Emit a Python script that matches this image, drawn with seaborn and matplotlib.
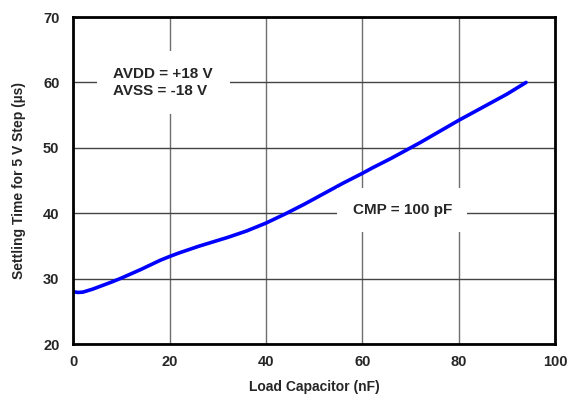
import seaborn as sns
import matplotlib.pyplot as plt
import pandas as pd

load_nf = [0, 1, 2, 4, 6, 8, 10, 12, 14, 16, 18, 20, 22, 24, 26, 28, 30, 32, 34, 36, 38,
           40, 42, 44, 46, 48, 50, 52, 54, 56, 58, 60, 62, 64, 66, 68, 70, 72, 74, 76,
           78, 80, 82, 84, 86, 88, 90, 92, 94]
settle_us = [28.0, 27.9, 27.95, 28.4, 28.95, 29.5, 30.1, 30.75, 31.4, 32.1, 32.8, 33.4,
             33.95, 34.45, 34.95, 35.4, 35.85, 36.3, 36.8, 37.3, 37.9, 38.5, 39.2, 39.9,
             40.65, 41.4, 42.2, 43.0, 43.8, 44.6, 45.35, 46.1, 46.9, 47.65, 48.4, 49.2,
             50.0, 50.8, 51.65, 52.5, 53.35, 54.2, 55.0, 55.8, 56.6, 57.4, 58.2, 59.1, 60.0]
x_ticks = [0, 20, 40, 60, 80, 100]
y_ticks = [20, 30, 40, 50, 60, 70]

df = pd.DataFrame({'load': load_nf, 'settle': settle_us})

sns.set_style('white')
plt.rcParams['font.family'] = ['Liberation Sans', 'DejaVu Sans']
plt.rcParams['font.weight'] = 'bold'

fig, ax = plt.subplots(figsize=(5.68, 3.96), dpi=100)
fig.subplots_adjust(left=0.129, right=0.977, top=0.957, bottom=0.131)

sns.lineplot(data=df, x='load', y='settle', ax=ax, color='#0000ff', linewidth=2.6)

ax.set_xlim(0, 100)
ax.set_ylim(20, 70)
ax.set_xticks(x_ticks)
ax.set_yticks(y_ticks)
ax.xaxis.grid(True, color='#6e6e6e', linewidth=1.0)
ax.yaxis.grid(True, color='#444444', linewidth=1.0)
ax.set_axisbelow(True)
ax.tick_params(length=0, labelsize=10.5)
ax.tick_params(axis='y', pad=10)
ax.tick_params(axis='x', pad=8)
for lbl in ax.get_xticklabels() + ax.get_yticklabels():
    lbl.set_fontweight('bold')
for s in ax.spines.values():
    s.set_color('black')
    s.set_linewidth(2)

ax.set_xlabel('Load Capacitor (nF)', fontsize=10, fontweight='bold', labelpad=8)
ax.set_ylabel('Settling Time for 5 V Step (µs)', fontsize=10, fontweight='bold', labelpad=12)

ax.text(8.3, 60, 'AVDD = +18 V\nAVSS = -18 V', ha='left', va='center',
        fontsize=11, fontweight='bold', linespacing=1.2,
        bbox=dict(facecolor='white', edgecolor='none', pad=12))
ax.text(68.3, 40.5, 'CMP = 100 pF', ha='center', va='center',
        fontsize=11, fontweight='bold',
        bbox=dict(facecolor='white', edgecolor='none', pad=11))

fig.savefig('out.png', dpi=100)
